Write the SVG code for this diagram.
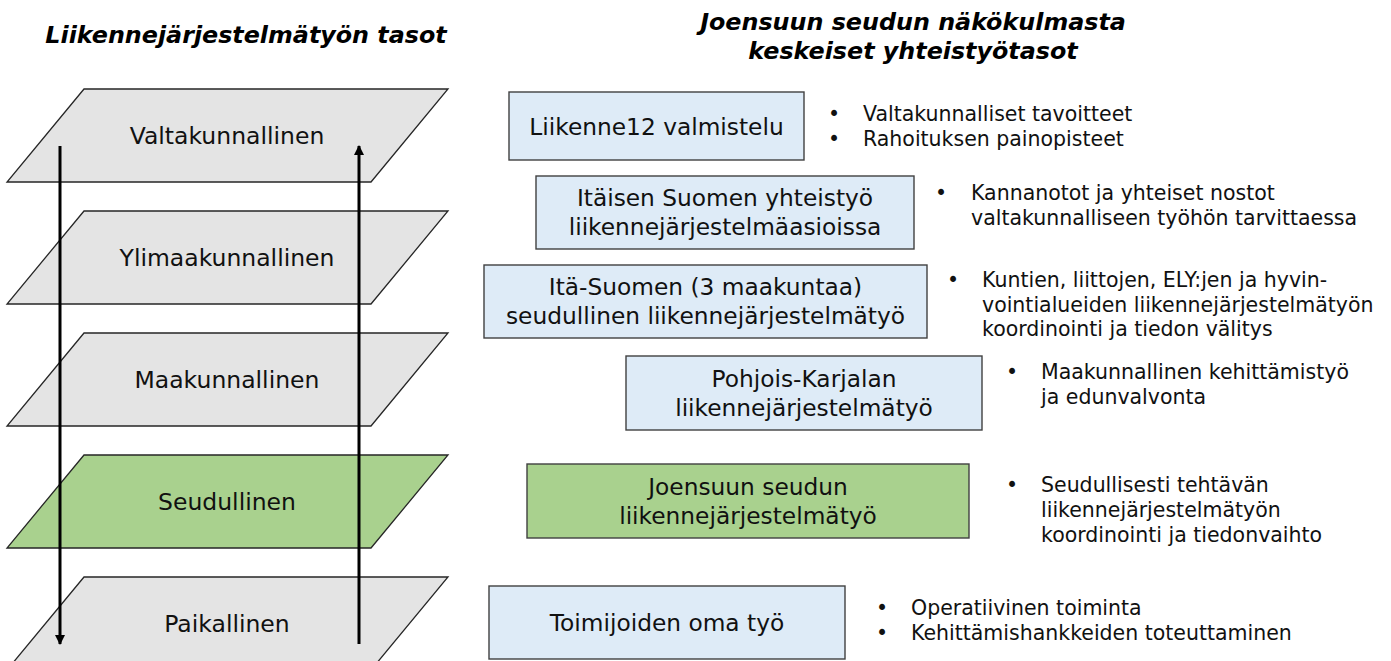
<svg xmlns="http://www.w3.org/2000/svg" width="1391" height="661" viewBox="0 0 1391 661">
<defs>
<marker id="ah" viewBox="0 0 10 10" refX="9" refY="5" markerWidth="3.4" markerHeight="3.4" orient="auto" markerUnits="strokeWidth">
<path d="M0,0 L10,5 L0,10 z" fill="#000"/>
</marker>
<style>
.layer{fill:#E4E4E4;stroke:#262626;stroke-width:1.3}
.green{fill:#A9D18E}
.box{fill:#DEEBF7;stroke:#404040;stroke-width:1.4}
.gbox{fill:#A9D18E;stroke:#404040;stroke-width:1.4}
.lt{font-family:"DejaVu Sans",Verdana,sans-serif;font-size:23.5px;fill:#111;text-anchor:middle}
.bt{font-family:"DejaVu Sans",Verdana,sans-serif;font-size:23.3px;fill:#111;text-anchor:middle}
.ut{font-family:"DejaVu Sans",Verdana,sans-serif;font-size:20.5px;fill:#111}
.tt{font-family:"DejaVu Sans",Verdana,sans-serif;font-size:23.8px;font-weight:bold;font-style:italic;fill:#000;text-anchor:middle}
.arr{stroke:#000;stroke-width:3;fill:none}
</style>
</defs>
<rect width="1391" height="661" fill="#fff"/>

<g id="titles">
<text class="tt" x="246" y="43">Liikennejärjestelmätyön tasot</text>
<text class="tt" x="913" y="30">Joensuun seudun näkökulmasta</text>
<text class="tt" x="913" y="59">keskeiset yhteistyötasot</text>
</g>

<g id="layer-valtakunnallinen">
<polygon class="layer" points="84,89 448,89 371,182 7,182"/>
<text class="lt" x="227" y="144">Valtakunnallinen</text>
</g>
<g id="layer-ylimaakunnallinen">
<polygon class="layer" points="84,211 448,211 371,304 7,304"/>
<text class="lt" x="227" y="266">Ylimaakunnallinen</text>
</g>
<g id="layer-maakunnallinen">
<polygon class="layer" points="84,333 448,333 371,426 7,426"/>
<text class="lt" x="227" y="388">Maakunnallinen</text>
</g>
<g id="layer-seudullinen">
<polygon class="layer green" points="84,455 448,455 371,548 7,548"/>
<text class="lt" x="227" y="510">Seudullinen</text>
</g>
<g id="layer-paikallinen">
<polygon class="layer" points="84,577 448,577 371,670 7,670"/>
<text class="lt" x="227" y="632">Paikallinen</text>
</g>

<g id="connectors">
<line class="arr" x1="60" y1="146" x2="60" y2="644" marker-end="url(#ah)"/>
<line class="arr" x1="359" y1="644" x2="359" y2="146" marker-end="url(#ah)"/>
</g>

<g id="box-liikenne12">
<rect class="box" x="509" y="92" width="295" height="68"/>
<text class="bt" x="656.5" y="135">Liikenne12 valmistelu</text>
</g>
<g id="box-itaisen">
<rect class="box" x="536" y="176" width="378" height="73"/>
<text class="bt" x="725" y="206">Itäisen Suomen yhteistyö</text>
<text class="bt" x="725" y="235">liikennejärjestelmäasioissa</text>
</g>
<g id="box-itasuomen">
<rect class="box" x="484" y="265" width="443" height="73"/>
<text class="bt" x="705.5" y="295">Itä-Suomen (3 maakuntaa)</text>
<text class="bt" x="705.5" y="324">seudullinen liikennejärjestelmätyö</text>
</g>
<g id="box-pohjoiskarjala">
<rect class="box" x="626" y="356" width="356" height="74"/>
<text class="bt" x="804" y="387">Pohjois-Karjalan</text>
<text class="bt" x="804" y="416">liikennejärjestelmätyö</text>
</g>
<g id="box-joensuu">
<rect class="gbox" x="527" y="464" width="442" height="74"/>
<text class="bt" x="748" y="495">Joensuun seudun</text>
<text class="bt" x="748" y="524">liikennejärjestelmätyö</text>
</g>
<g id="box-toimijat">
<rect class="box" x="489" y="586" width="356" height="73"/>
<text class="bt" x="667" y="631">Toimijoiden oma työ</text>
</g>

<g id="notes-liikenne12">
<text class="ut" x="828" y="121">•</text><text class="ut" x="863" y="121">Valtakunnalliset tavoitteet</text>
<text class="ut" x="828" y="146">•</text><text class="ut" x="863" y="146">Rahoituksen painopisteet</text>
</g>
<g id="notes-itaisen">
<text class="ut" x="935" y="200">•</text><text class="ut" x="971" y="200">Kannanotot ja yhteiset nostot</text>
<text class="ut" x="971" y="225">valtakunnalliseen työhön tarvittaessa</text>
</g>
<g id="notes-itasuomen">
<text class="ut" x="947" y="287">•</text><text class="ut" x="982" y="287">Kuntien, liittojen, ELY:jen ja hyvin-</text>
<text class="ut" x="982" y="312">vointialueiden liikennejärjestelmätyön</text>
<text class="ut" x="982" y="336">koordinointi ja tiedon välitys</text>
</g>
<g id="notes-pohjoiskarjala">
<text class="ut" x="1006" y="379">•</text><text class="ut" x="1041" y="379">Maakunnallinen kehittämistyö</text>
<text class="ut" x="1041" y="404">ja edunvalvonta</text>
</g>
<g id="notes-joensuu">
<text class="ut" x="1006" y="492">•</text><text class="ut" x="1041" y="492">Seudullisesti tehtävän</text>
<text class="ut" x="1041" y="517">liikennejärjestelmätyön</text>
<text class="ut" x="1041" y="542">koordinointi ja tiedonvaihto</text>
</g>
<g id="notes-toimijat">
<text class="ut" x="876" y="615">•</text><text class="ut" x="911" y="615">Operatiivinen toiminta</text>
<text class="ut" x="876" y="640">•</text><text class="ut" x="911" y="640">Kehittämishankkeiden toteuttaminen</text>
</g>
</svg>
